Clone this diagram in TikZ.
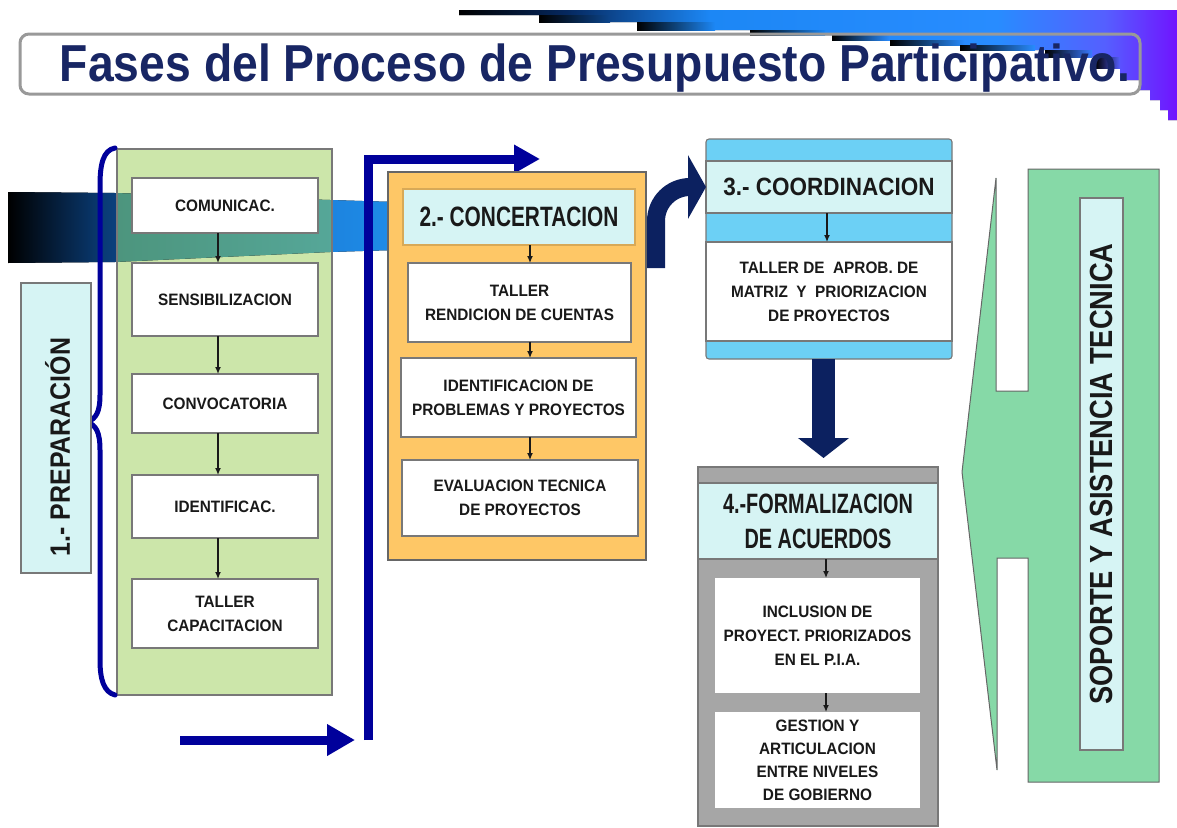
\documentclass[tikz,border=0pt]{standalone}
\usepackage{fontspec}
\usepackage{graphicx}
\usetikzlibrary{arrows.meta}
\setmainfont{Liberation Sans}
\newfontfamily\lblfont{Liberation Sans}[FakeStretch=0.93]
\newfontfamily\concfont{Liberation Sans}[FakeStretch=0.745]
\newfontfamily\coordfont{Liberation Sans}[FakeStretch=0.9]
\newfontfamily\formfont{Liberation Sans}[FakeStretch=0.71]
\newfontfamily\prepfont{Liberation Sans}[FakeStretch=0.89]
\newfontfamily\sopfont{Liberation Sans}[FakeStretch=0.853]
\definecolor{cyanL}{RGB}{214,244,244}
\definecolor{greenB}{RGB}{204,230,170}
\definecolor{orangeB}{RGB}{254,199,102}
\definecolor{skyB}{RGB}{108,208,245}
\definecolor{grayB}{RGB}{166,166,166}
\definecolor{greenR}{RGB}{134,217,167}
\definecolor{navyA}{RGB}{12,33,96}
\definecolor{blueC}{RGB}{0,0,155}
\definecolor{titleC}{RGB}{24,38,100}
\definecolor{borderG}{RGB}{120,120,120}
\definecolor{textC}{RGB}{25,25,25}
\definecolor{bandA}{RGB}{10,60,118}
\definecolor{bandB}{RGB}{28,125,215}
\definecolor{bandC}{RGB}{30,140,232}
\definecolor{tealA}{RGB}{72,140,112}
\definecolor{tealB}{RGB}{88,172,160}
\definecolor{topA}{RGB}{5,40,95}
\definecolor{topB}{RGB}{28,135,245}
\definecolor{topC}{RGB}{40,140,255}
\definecolor{topD}{RGB}{85,95,255}
\definecolor{topE}{RGB}{112,20,255}
\pgfdeclarehorizontalshading{topshade}{100bp}{color(0bp)=(black); color(25bp)=(black); color(32.5bp)=(topA); color(42.5bp)=(topB); color(62.5bp)=(topC); color(70bp)=(topD); color(75bp)=(topE); color(100bp)=(topE)}
\pgfdeclarehorizontalshading{bandshade}{100bp}{color(0bp)=(black); color(25bp)=(black); color(37.5bp)=(bandA); color(60bp)=(bandB); color(75bp)=(bandC); color(100bp)=(bandC)}
\begin{document}
\begin{tikzpicture}[x=1pt,y=-1pt,
  bx/.style={draw=borderG, line width=1.1pt, inner sep=0pt, outer sep=0pt, align=center, text=textC},
  wbox/.style={bx, fill=white, font=\lblfont\bfseries\fontsize{16.5pt}{24pt}\selectfont},
  hbox/.style={bx, fill=cyanL},
  sarrow/.style={draw=black!90, line width=1.3pt, -{Latex[length=7pt,width=6pt]}},
  conn/.style={draw=blueC, line width=9pt},
  shadowstep/.style={left color=black}
]
\useasboundingbox (0,0) rectangle (1177,827);

% title box fill
\node[fill=white, rounded corners=9pt, minimum width=1120pt, minimum height=60pt, inner sep=0pt, outer sep=0pt] (titlebox) at (580,64) {};

% top gradient staircase
\fill[shading=topshade] (459,10) -- (1177,10) -- (1177,120) -- (1168,120) -- (1168,110) -- (1160,110) -- (1160,100) -- (1150,100) -- (1150,90) -- (1140,90) -- (1140,80) -- (1120,80) -- (1120,68) -- (1095,68) -- (1095,57) -- (1045,57) -- (1045,50) -- (960,50) -- (960,45) -- (890,45) -- (890,40) -- (832,40) -- (832,35) -- (750,35) -- (750,30) -- (637,30) -- (637,22) -- (539,22) -- (539,15) -- (459,15) -- cycle;
\fill[shadowstep, right color=topA!70!topB] (539,15) rectangle (610,22);
\fill[shadowstep, right color=topB] (637,22) rectangle (715,30);
\fill[shadowstep, right color=topB] (750,30) rectangle (825,35);
\fill[shadowstep, right color=topC] (832,35) rectangle (890,40);
\fill[shadowstep, right color=topC] (890,40) rectangle (965,45);
\fill[shadowstep, right color=topC] (960,45) rectangle (1035,50);
\fill[shadowstep, right color=topC!60!topD] (1045,50) rectangle (1092,57);
\fill[shadowstep, right color=topD] (1095,57) rectangle (1120,68);

% title border and text
\draw[draw=black!40, line width=3pt, rounded corners=9pt] (titlebox.south west) rectangle (titlebox.north east);
\node[anchor=base, text=titleC, inner sep=0pt] (title) at (595,81) {\resizebox{1070pt}{\height}{\fontsize{52pt}{52pt}\selectfont\bfseries Fases del Proceso de Presupuesto Participativo.}};

% band behind phase 1
\fill[shading=bandshade] (8,192) -- (115,193) -- (330,200) -- (395,202) -- (395,250) -- (330,252) -- (115,262) -- (8,263) -- cycle;

% phase 1 column
\node[bx, fill=greenB, minimum width=215pt, minimum height=546pt] (prepcol) at (224.5,422) {};
\begin{scope}
\clip (prepcol.south west) rectangle (prepcol.north east);
\fill[left color=tealA, right color=tealB] (8,192) -- (115,193) -- (330,200) -- (395,202) -- (395,250) -- (330,252) -- (115,262) -- (8,263) -- cycle;
\end{scope}
\draw[draw=borderG, line width=1.1pt] (prepcol.south west) rectangle (prepcol.north east);

\node[wbox, minimum width=186pt, minimum height=55pt] (comunic) at (225,205.5) {COMUNICAC.};
\node[wbox, minimum width=186pt, minimum height=73pt] (sensib) at (225,299.5) {SENSIBILIZACION};
\node[wbox, minimum width=186pt, minimum height=59pt] (convoc) at (225,403.5) {CONVOCATORIA};
\node[wbox, minimum width=186pt, minimum height=63pt] (identif) at (225,506.5) {IDENTIFICAC.};
\node[wbox, minimum width=186pt, minimum height=69pt] (tallercap) at (225,613.5) {TALLER\\CAPACITACION};
\coordinate (ax1) at (218,0);
\draw[sarrow] (comunic.south -| ax1) -- (sensib.north -| ax1);
\draw[sarrow] (sensib.south -| ax1) -- (convoc.north -| ax1);
\draw[sarrow] (convoc.south -| ax1) -- (identif.north -| ax1);
\draw[sarrow] (identif.south -| ax1) -- (tallercap.north -| ax1);

% brace
\draw[draw=blueC, line width=5pt, line cap=round] (115,148) .. controls (103,150) and (100,165) .. (100,185) -- (100,395) .. controls (100,412) and (96,419) .. (87,422) .. controls (96,425) and (100,432) .. (100,450) -- (100,660) .. controls (100,680) and (104,692) .. (115,695);

% preparation label
\node[hbox, minimum width=70pt, minimum height=290pt] (prep) at (56,428) {};
\node[inner sep=0pt, text=textC, font=\prepfont\bfseries\fontsize{28pt}{28pt}\selectfont] (preplabel) at (57.5,447) {\rotatebox{90}{1.- PREPARACIÓN}};

% blue connectors
\coordinate (bstart) at (180,740);
\coordinate (vbot) at (368,740);
\coordinate (topend) at (540,159);
\draw[conn, -{Triangle[length=28pt,width=30pt]}, shorten >=13pt] (bstart) -- (vbot);
\draw[conn, -{Triangle[length=26pt,width=27pt]}] (vbot) |- (topend);

% phase 2
\node[bx, draw=black!60, fill=orangeB, minimum width=258pt, minimum height=388pt] (concbox) at (517,366) {};
\node[hbox, draw=orangeB!85!black, minimum width=232pt, minimum height=56pt, font=\concfont\bfseries\fontsize{28pt}{28pt}\selectfont] (head2) at (519,217) {2.- CONCERTACION};
\node[wbox, minimum width=223pt, minimum height=79pt] (taller2) at (519.5,302.5) {TALLER\\RENDICION DE CUENTAS};
\node[wbox, minimum width=235pt, minimum height=79pt] (ident2) at (518.5,397.5) {IDENTIFICACION DE\\PROBLEMAS Y PROYECTOS};
\node[wbox, minimum width=236pt, minimum height=76pt] (eval2) at (520,498) {EVALUACION TECNICA\\DE PROYECTOS};
\coordinate (ax2) at (530,0);
\draw[sarrow] (head2.south -| ax2) -- (taller2.north -| ax2);
\draw[sarrow] (taller2.south -| ax2) -- (ident2.north -| ax2);
\draw[sarrow] (ident2.south -| ax2) -- (eval2.north -| ax2);

% phase 3
\node[bx, fill=skyB, rounded corners=3pt, minimum width=246pt, minimum height=220pt] (coordbox) at (829,249) {};
\node[hbox, minimum width=246pt, minimum height=52pt, font=\coordfont\bfseries\fontsize{25pt}{25pt}\selectfont] (head3) at (829,187) {3.- COORDINACION};
\node[wbox, minimum width=246pt, minimum height=99pt] (taller3) at (829,291.5) {TALLER DE\ \ APROB. DE\\MATRIZ\ \ Y\ \ PRIORIZACION\\DE PROYECTOS};
\coordinate (ax3) at (827,0);
\draw[sarrow] (head3.south -| ax3) -- (taller3.north -| ax3);

% bent arrow from phase 2 to phase 3
\coordinate (bentstart) at (656,268);
\draw[draw=navyA, line width=18pt, rounded corners=34pt, -{Triangle[length=18pt,width=63pt]}] (bentstart) |- (head3.west);

% phase 4
\node[bx, fill=grayB, minimum width=240pt, minimum height=359pt] (formbox) at (818,646.5) {};
\node[hbox, minimum width=240pt, minimum height=76pt, font=\formfont\bfseries\fontsize{28pt}{35pt}\selectfont] (head4) at (818,521) {4.-FORMALIZACION\\DE ACUERDOS};
\node[wbox, draw=none, minimum width=205pt, minimum height=115pt] (incl) at (817.5,635.5) {INCLUSION DE\\PROYECT. PRIORIZADOS\\EN EL P.I.A.};
\node[wbox, draw=none, minimum width=205pt, minimum height=96pt, font=\lblfont\bfseries\fontsize{16.5pt}{23pt}\selectfont] (gest) at (817.5,760) {GESTION Y\\ARTICULACION\\ENTRE NIVELES\\DE GOBIERNO};
\coordinate (ax4) at (826,0);
\draw[sarrow] (head4.south -| ax4) -- (incl.north -| ax4);
\draw[sarrow] (incl.south -| ax4) -- (gest.north -| ax4);

% big down arrow phase 3 -> phase 4
\coordinate (ax5) at (823.5,0);
\draw[draw=navyA, line width=23pt, -{Triangle[length=20pt,width=50pt]}, shorten >=9pt] (coordbox.south -| ax5) -- (formbox.north -| ax5);

% support shape
\draw[fill=greenR, draw=black!60, line width=1pt] (1028,169) -- (1159,169) -- (1159,782) -- (1028,782) -- (1028,558) -- (997,558) -- (997,770) -- (962,472) -- (996,178) -- (996,391) -- (1028,391) -- cycle;
\node[hbox, minimum width=43pt, minimum height=552pt, font=\sopfont\bfseries\fontsize{32pt}{32pt}\selectfont] (soporte) at (1101.5,474) {\rotatebox{90}{SOPORTE Y ASISTENCIA TECNICA}};
\end{tikzpicture}
\end{document}
